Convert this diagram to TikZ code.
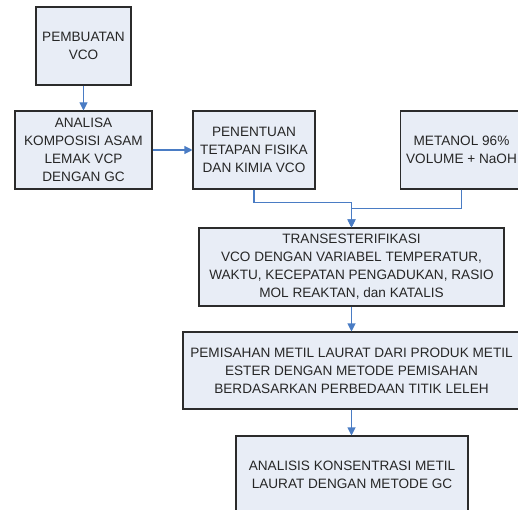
\documentclass[tikz,border=0pt]{standalone}
\usepackage{fontspec}
\setmainfont{Liberation Sans}
\usetikzlibrary{arrows.meta}
\definecolor{boxfill}{HTML}{E8EDF6}
\definecolor{boxline}{HTML}{2B2B2B}
\definecolor{arrowblue}{HTML}{4A7CC4}
\begin{document}
\begin{tikzpicture}[x=0.75pt, y=-0.75pt,
		stepbox/.style={draw=boxline, fill=boxfill, line width=0.8pt, inner sep=0pt,
			align=center, font=\fontsize{10.2}{13.5}\selectfont, text=black!85},
		flow/.style={draw=arrowblue, line width=0.8pt, -{Triangle[width=6pt, length=6pt]}}]
			\useasboundingbox (0, 0) rectangle (518, 510);
			\clip (0, 0) rectangle (518, 510);
			
			\node[stepbox, minimum width=71.25pt, minimum height=58.5pt] (buat) at (83.5, 46) {PEMBUATAN\\VCO};
			
			\node[stepbox, minimum width=102.75pt, minimum height=58.5pt] (analisa) at (83.5, 150) {ANALISA\\KOMPOSISI ASAM\\LEMAK VCP\\DENGAN GC};
			\node[stepbox, minimum width=91.5pt, minimum height=58.5pt] (tetapan) at (254, 150) {PENENTUAN\\TETAPAN FISIKA\\DAN KIMIA VCO};
			\node[stepbox, minimum width=91.5pt, minimum height=58.5pt] (metanol) at (461.5, 150) {METANOL 96\%\\VOLUME + NaOH};
			
			\node[stepbox, minimum width=228.75pt, minimum height=58.5pt] (trans) at (351.5, 267) {TRANSESTERIFIKASI\\VCO DENGAN VARIABEL TEMPERATUR,\\WAKTU, KECEPATAN PENGADUKAN, RASIO\\MOL REAKTAN, dan KATALIS};
			
			\node[stepbox, minimum width=252.75pt, minimum height=57.75pt] (pisah) at (351.5, 370.5) {PEMISAHAN METIL LAURAT DARI PRODUK METIL\\ESTER DENGAN METODE PEMISAHAN\\BERDASARKAN PERBEDAAN TITIK LELEH};
			
			\node[stepbox, minimum width=174pt, minimum height=58.5pt] (konsen) at (352, 475) {ANALISIS KONSENTRASI METIL\\LAURAT DENGAN METODE GC};
			
			\draw[flow] (buat) -- (analisa);
			\draw[flow] (analisa) -- (tetapan);
			\draw[flow] (tetapan.south) -- ++(0, 13) -| (trans.north);
			\draw[flow] (metanol.south) -- ++(0, 19) -| (trans.north);
			\draw[flow] (trans) -- (pisah);
			\draw[flow] (pisah.south) -- (pisah.south |- konsen.north);
		\end{tikzpicture}
\end{document}
